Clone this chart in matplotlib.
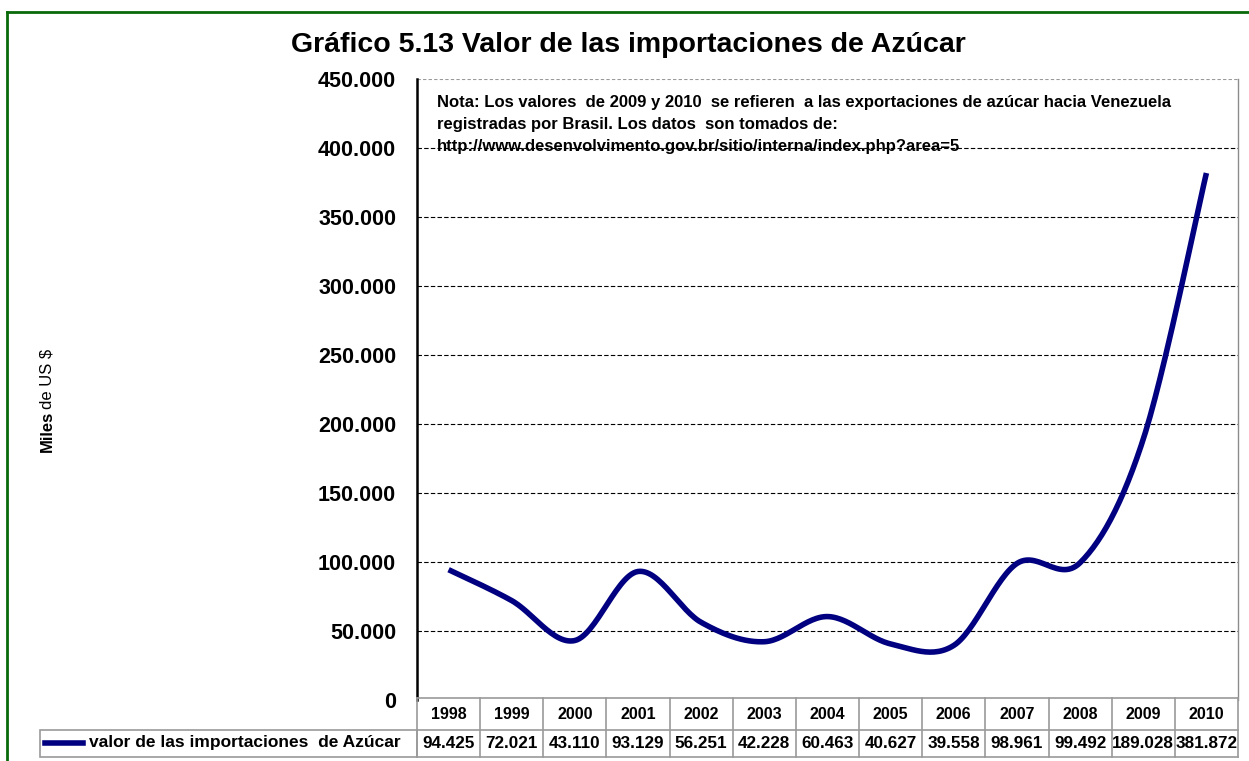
import numpy as np
import matplotlib
matplotlib.use("Agg")
import matplotlib.pyplot as plt
from matplotlib.lines import Line2D
from matplotlib.patches import Rectangle
from matplotlib.ticker import FuncFormatter

# ---- data ----
years = ["1998", "1999", "2000", "2001", "2002", "2003", "2004",
         "2005", "2006", "2007", "2008", "2009", "2010"]
values = [94425, 72021, 43110, 93129, 56251, 42228, 60463,
          40627, 39558, 98961, 99492, 189028, 381872]
value_labels = ["94.425", "72.021", "43.110", "93.129", "56.251", "42.228", "60.463",
                "40.627", "39.558", "98.961", "99.492", "189.028", "381.872"]
series_name = "valor de las importaciones  de Azúcar"
title = "Gráfico 5.13 Valor de las importaciones de Azúcar"
note_lines = ["Nota: Los valores  de 2009 y 2010  se refieren  a las exportaciones de azúcar hacia Venezuela",
              "registradas por Brasil. Los datos  son tomados de:",
              "http://www.desenvolvimento.gov.br/sitio/interna/index.php?area=5"]
yticks = [0, 50000, 100000, 150000, 200000, 250000, 300000, 350000, 400000, 450000]

W, H = 1249, 761
fig = plt.figure(figsize=(W / 100, H / 100), dpi=100)
fig.patch.set_facecolor("white")
FONT = "Liberation Sans"

def fx(px):
    return px / W

def fy(py):
    return 1 - py / H

L, R, T, B = 417, 1238, 79, 700
ax = fig.add_axes([fx(L), fy(B), fx(R - L), (B - T) / H])
n = len(values)
ax.set_xlim(-0.5, n - 0.5)
ax.set_ylim(0, 450000)

# smoothed line (Catmull-Rom as Bezier, like Excel smoothing)
x = np.arange(n, dtype=float)
y = np.array(values, dtype=float)
px = np.concatenate([[x[0]], x, [x[-1]]])
py = np.concatenate([[y[0]], y, [y[-1]]])
xs, ys = [], []
t = np.linspace(0, 1, 30)
for i in range(n - 1):
    p0 = np.array([px[i + 1], py[i + 1]])
    p3 = np.array([px[i + 2], py[i + 2]])
    pm = np.array([px[i], py[i]])
    pp = np.array([px[i + 3], py[i + 3]])
    c1 = p0 + (p3 - pm) / 6
    c2 = p3 - (pp - p0) / 6
    b = ((1 - t) ** 3)[:, None] * p0 + (3 * (1 - t) ** 2 * t)[:, None] * c1 + \
        (3 * (1 - t) * t ** 2)[:, None] * c2 + (t ** 3)[:, None] * p3
    xs.extend(b[:, 0]); ys.extend(b[:, 1])
ax.plot(xs, ys, color="#000080", lw=4, solid_capstyle="butt", zorder=3)

# gridlines
for v in yticks[1:-1]:
    ax.axhline(v, color="black", lw=0.8, ls=(0, (4, 2)), zorder=1)
ax.axhline(450000, color="#999999", lw=0.8, ls=(0, (3, 2)), zorder=1)

for s in ["top", "bottom"]:
    ax.spines[s].set_visible(False)
ax.spines["left"].set_color("black")
ax.spines["left"].set_linewidth(1.8)
ax.spines["right"].set_color("#8c8c8c")
ax.spines["right"].set_linewidth(1.0)
ax.set_xticks([])
ax.set_yticks(yticks)
ax.yaxis.set_major_formatter(FuncFormatter(lambda v, p: f"{int(v):,}".replace(",", ".")))
ax.tick_params(axis="y", length=0, pad=15)
for lab in ax.get_yticklabels():
    lab.set_fontweight("bold")
    lab.set_fontsize(15.5)
    lab.set_fontfamily(FONT)

# note
for k, line in enumerate(note_lines):
    fig.text(fx(437), fy(102 + k * 22), line, fontsize=12, fontweight="bold",
             family=FONT, va="center", ha="left")

# title
fig.text(fx(628), fy(45), title, fontsize=20.5, fontweight="bold",
         family=FONT, ha="center", va="center")

# y label
fig.text(fx(47), fy(452), "Miles", rotation=90, fontsize=12, fontweight="bold",
         family=FONT, ha="center", va="bottom")
fig.text(fx(47), fy(409), "de US $", rotation=90, fontsize=12,
         family=FONT, ha="center", va="bottom")

# data table
tax = fig.add_axes([fx(L), fy(757), fx(R - L), 57 / H])
tax.set_xlim(-0.5, n - 0.5)
tax.set_ylim(0, 2)
tax.axis("off")
grid_c = "#9a9a9a"
for i in range(n + 1):
    tax.plot([i - 0.5, i - 0.5], [0, 2.06], color=grid_c, lw=1.2, clip_on=False)
for yy in [0, 0.95, 2.06]:
    tax.plot([-0.5, n - 0.5], [yy, yy], color=grid_c, lw=1.2, clip_on=False)
for i in range(n):
    tax.text(i, 1.5, years[i], ha="center", va="center", fontsize=11.5,
             fontweight="bold", family=FONT)
    tax.text(i, 0.47, value_labels[i], ha="center", va="center", fontsize=12.3,
             fontweight="bold", family=FONT)

# legend cell
fig.add_artist(Rectangle((fx(40), fy(757)), fx(L - 40), (757 - 730) / H,
                         fill=False, edgecolor=grid_c, lw=1.2))
fig.add_artist(Line2D([fx(45), fx(83)], [fy(743), fy(743)], color="#000080", lw=4))
fig.text(fx(89), fy(743), series_name, fontsize=12.5, fontweight="bold",
         family=FONT, ha="left", va="center")

# green border
fig.add_artist(Line2D([fx(7), fx(7)], [fy(12), 0], color="#0a6a0a", lw=2))
fig.add_artist(Line2D([fx(7), 1], [fy(12), fy(12)], color="#0a6a0a", lw=2))

fig.savefig("out.png", dpi=100)
